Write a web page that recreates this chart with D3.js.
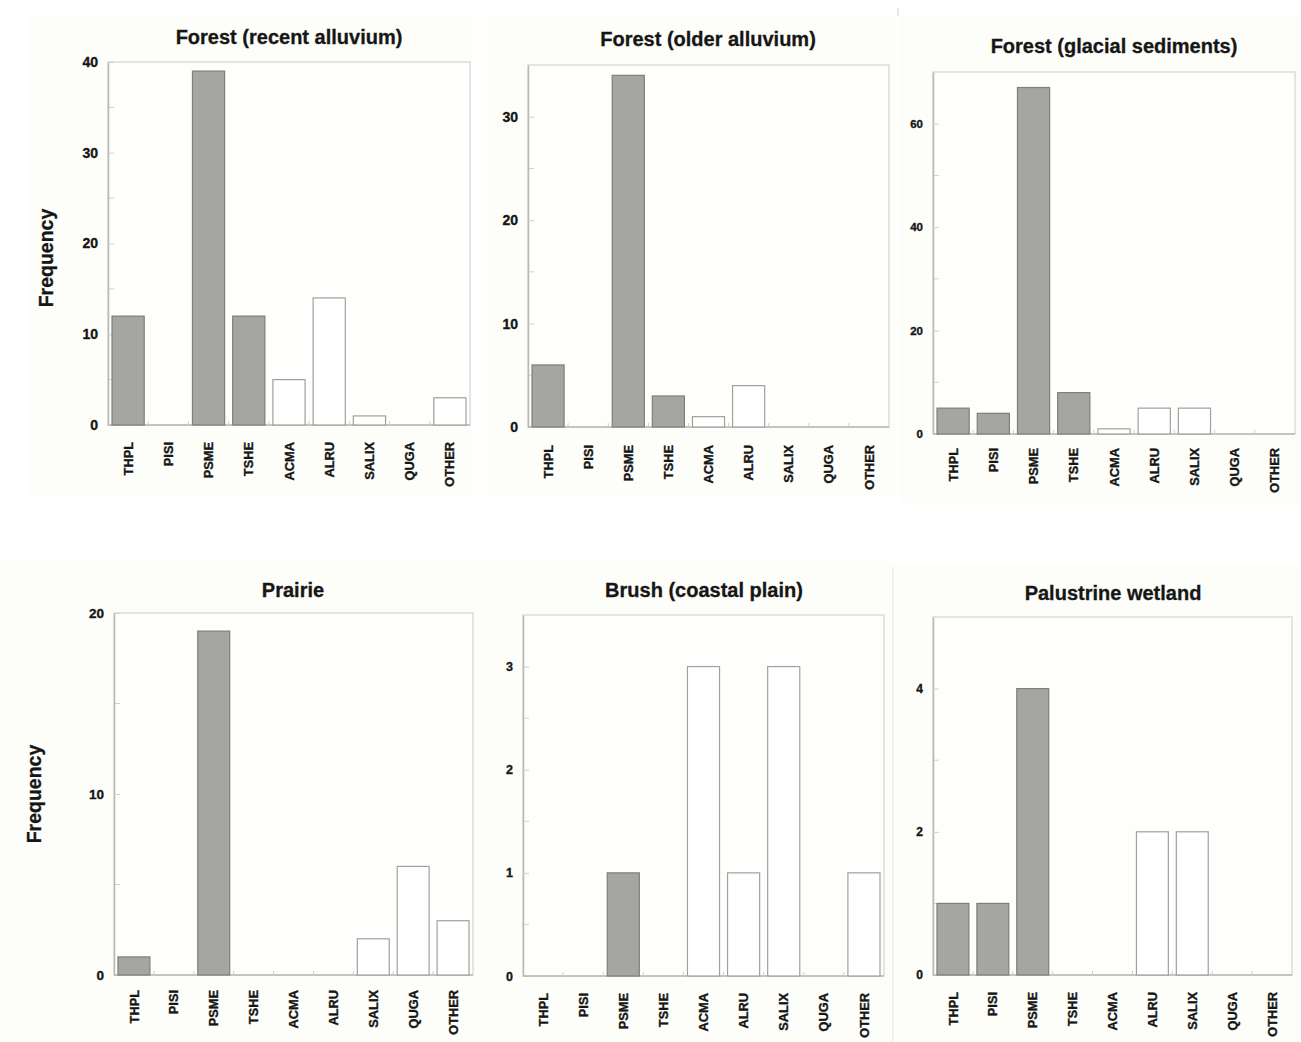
<!DOCTYPE html>
<html>
<head>
<meta charset="utf-8">
<script src="https://cdn.jsdelivr.net/npm/d3@7"></script>
<style>
  html, body { margin: 0; padding: 0; background: #ffffff; }
  svg { display: block; font-family: "Liberation Sans", Arial, sans-serif; }
</style>
</head>
<body>
<svg id="chart" width="1301" height="1042"></svg>
<script>
// ---- data ----
const species = ["THPL", "PISI", "PSME", "TSHE", "ACMA", "ALRU", "SALIX", "QUGA", "OTHER"];
const conifers = ["THPL", "PISI", "PSME", "TSHE"];
const panelTitles = ["Forest (recent alluvium)", "Forest (older alluvium)", "Forest (glacial sediments)",
                     "Prairie", "Brush (coastal plain)", "Palustrine wetland"];
const recentAlluvium  = [12, 0, 39, 12, 5, 14, 1, 0, 3];
const olderAlluvium   = [6, 0, 34, 3, 1, 4, 0, 0, 0];
const glacialSediments= [5, 4, 67, 8, 1, 5, 5, 0, 0];
const prairie         = [1, 0, 19, 0, 0, 0, 2, 6, 3];
const brushCoastal    = [0, 0, 1, 0, 3, 1, 3, 0, 1];
const palustrine      = [1, 1, 4, 0, 0, 2, 2, 0, 0];
const seriesValues = [recentAlluvium, olderAlluvium, glacialSediments, prairie, brushCoastal, palustrine];
const yMaxes = [40, 35, 70, 20, 3.5, 5];
const yMajorTicks = [[0, 10, 20, 30, 40], [0, 10, 20, 30], [0, 20, 40, 60], [0, 10, 20], [0, 1, 2, 3], [0, 2, 4]];
const yMinorTicks = [[5, 15, 25, 35], [5, 15, 25], [10, 30, 50], [5, 15], [0.5, 1.5, 2.5], [1, 3]];
const yAxisLabel = "Frequency";

// ---- layout (positions / styles) ----
const layout = [
  {l: 108, r: 470, t: 62,  b: 425, tickFont: 14,   labelTop: 442, titleX: 289,  titleY: 44,  freq: {x: 53, y: 258}, bg: [30, 15, 472, 495]},
  {l: 528, r: 889, t: 65,  b: 427, tickFont: 14,   labelTop: 445, titleX: 708,  titleY: 46,  freq: null,             bg: [487, 15, 897, 495]},
  {l: 933, r: 1295,t: 72,  b: 434, tickFont: 11.5, labelTop: 448, titleX: 1114, titleY: 53,  freq: null,             bg: [900, 15, 1301, 505]},
  {l: 114, r: 473, t: 613, b: 975, tickFont: 13.5, labelTop: 990, titleX: 293,  titleY: 597, freq: {x: 41, y: 794}, bg: [0, 560, 480, 1042]},
  {l: 523, r: 884, t: 615, b: 976, tickFont: 12.5, labelTop: 993, titleX: 704,  titleY: 597, freq: null,             bg: [480, 560, 892, 1042]},
  {l: 933, r: 1292,t: 617, b: 975, tickFont: 12,   labelTop: 992, titleX: 1113, titleY: 600, freq: null,             bg: [895, 565, 1301, 1042]}
];
const ink = "#161616";

const svg = d3.select("#chart");
svg.append("rect").attr("width", 1301).attr("height", 1042).attr("fill", "#ffffff");

seriesValues.forEach((vals, i) => {
  const L = layout[i];
  const g = svg.append("g");

  // panel background
  g.append("rect")
    .attr("x", L.bg[0]).attr("y", L.bg[1])
    .attr("width", L.bg[2] - L.bg[0]).attr("height", L.bg[3] - L.bg[1])
    .attr("fill", "#fdfdf9");

  const x = d3.scaleBand().domain(species).range([L.l, L.r]).paddingInner(0.2).paddingOuter(0.1);
  const y = d3.scaleLinear().domain([0, yMaxes[i]]).range([L.b, L.t]);

  // plot area
  g.append("rect")
    .attr("x", L.l).attr("y", L.t)
    .attr("width", L.r - L.l).attr("height", L.b - L.t)
    .attr("fill", "#fefefc").attr("stroke", "#d4d4d0").attr("stroke-width", 1.2);

  // minor ticks
  g.selectAll(".minor").data(yMinorTicks[i]).join("line")
    .attr("x1", L.l).attr("x2", L.l + 6)
    .attr("y1", d => y(d)).attr("y2", d => y(d))
    .attr("stroke", "#d0d0cc").attr("stroke-width", 1);

  // y axis with major ticks (inside)
  const yAxis = d3.axisLeft(y).tickValues(yMajorTicks[i]).tickSizeInner(-6).tickSizeOuter(0).tickPadding(10)
    .tickFormat(d3.format("d"));
  const ya = g.append("g").attr("transform", `translate(${L.l},0)`).call(yAxis);
  ya.select(".domain").attr("stroke", "#b8b8b4").attr("stroke-width", 1.5);
  ya.selectAll(".tick line").attr("stroke", "#cfcfcb");
  ya.selectAll(".tick text")
    .attr("font-size", L.tickFont).attr("font-weight", "bold").attr("fill", ink)
    .attr("stroke", ink).attr("stroke-width", 0.35)
    .attr("font-family", "'Liberation Sans', Arial, sans-serif");

  // x baseline
  g.append("line").attr("x1", L.l).attr("x2", L.r).attr("y1", L.b).attr("y2", L.b)
    .attr("stroke", "#b8b8b4").attr("stroke-width", 1.5);

  // small x boundary ticks
  const step = x.step();
  const bounds = species.slice(1).map(s => x(s) - step * x.paddingInner() / 2);
  g.selectAll(".xtick").data(bounds).join("line")
    .attr("x1", d => d).attr("x2", d => d)
    .attr("y1", L.b).attr("y2", L.b - 4)
    .attr("stroke", "#cfcfcb").attr("stroke-width", 1);

  // bars
  g.selectAll(".bar").data(species.map((s, k) => ({s, v: vals[k]}))).join("rect")
    .attr("x", d => x(d.s))
    .attr("y", d => y(d.v))
    .attr("width", x.bandwidth())
    .attr("height", d => y(0) - y(d.v))
    .attr("fill", d => conifers.includes(d.s) ? "#a5a5a3" : "#ffffff")
    .attr("stroke", d => conifers.includes(d.s) ? "#7e7e7c" : "#a0a09e")
    .attr("stroke-width", 1.2);

  // x labels
  const xa = g.append("g").attr("transform", `translate(0,${L.labelTop})`)
    .call(d3.axisBottom(x).tickSize(0).tickPadding(0));
  xa.select(".domain").remove();
  xa.selectAll(".tick text")
    .attr("transform", "rotate(-90)")
    .attr("text-anchor", "end")
    .attr("x", 0).attr("y", 0).attr("dy", "0.36em")
    .attr("font-size", 12.8).attr("font-weight", "bold").attr("fill", ink)
    .attr("stroke", ink).attr("stroke-width", 0.35)
    .attr("font-family", "'Liberation Sans', Arial, sans-serif");

  // title
  g.append("text").attr("x", L.titleX).attr("y", L.titleY)
    .attr("text-anchor", "middle").attr("font-size", 20).attr("font-weight", "bold")
    .attr("fill", ink).attr("stroke", ink).attr("stroke-width", 0.3).text(panelTitles[i]);

  // y-axis label
  if (L.freq) {
    g.append("text")
      .attr("transform", `translate(${L.freq.x},${L.freq.y}) rotate(-90)`)
      .attr("text-anchor", "middle").attr("font-size", 19.5).attr("font-weight", "bold")
      .attr("fill", ink).attr("stroke", ink).attr("stroke-width", 0.3).text(yAxisLabel);
  }
});

// faint separator artefacts
svg.append("line").attr("x1", 893).attr("x2", 893).attr("y1", 567).attr("y2", 1042)
  .attr("stroke", "#e4e4e0").attr("stroke-width", 1);
svg.append("line").attr("x1", 898).attr("x2", 898).attr("y1", 8).attr("y2", 16)
  .attr("stroke", "#d0d0cc").attr("stroke-width", 1);
</script>
</body>
</html>
